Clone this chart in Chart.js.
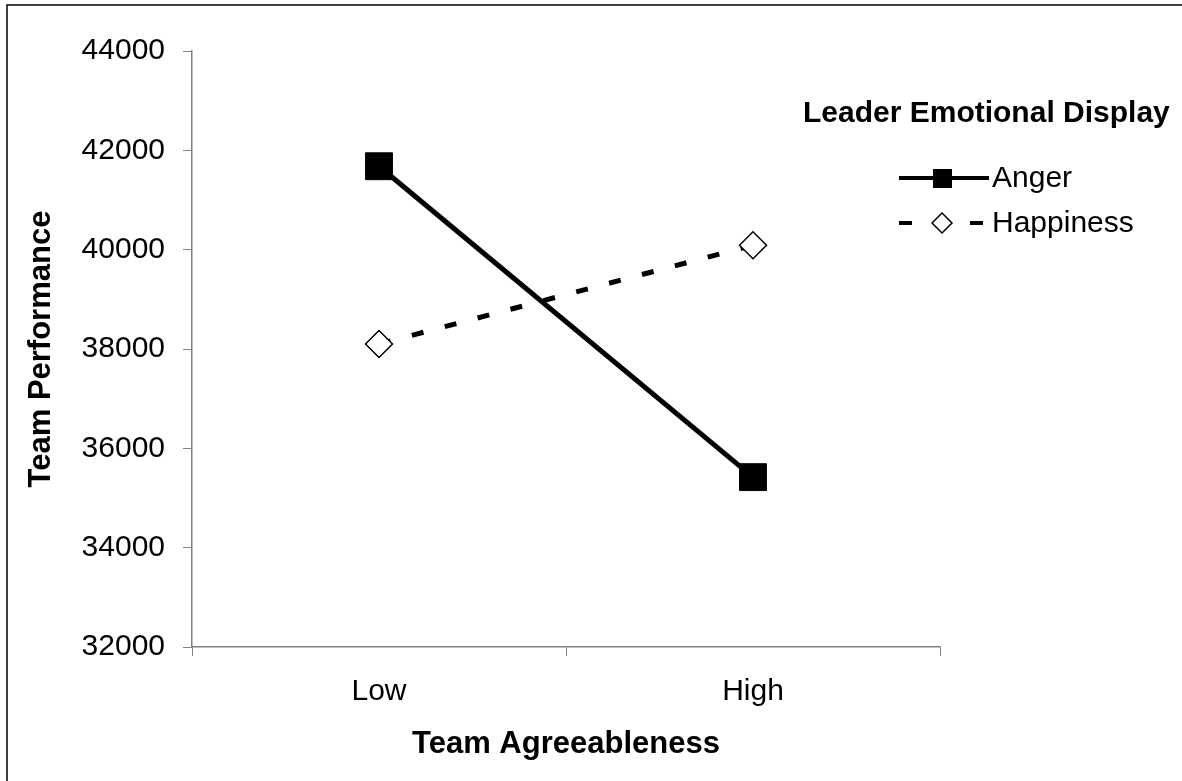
<!DOCTYPE html>
<html>
<head>
<meta charset="utf-8">
<script src="https://cdn.jsdelivr.net/npm/chart.js@4/dist/chart.umd.min.js"></script>
<style>
  html, body { margin: 0; padding: 0; background: #fff; }
  #wrap { position: relative; width: 1182px; height: 781px; }
</style>
</head>
<body>
<div id="wrap"><canvas id="chart" width="1182" height="781"></canvas></div>
<script>
const categories = ['Low', 'High'];
const angerValues = [41680, 35420];
const happinessValues = [38100, 40090];
const yTicks = [32000, 34000, 36000, 38000, 40000, 42000, 44000];
const legendTitle = 'Leader Emotional Display';

// frame round the figure (only top and left edges are visible)
const framePlugin = {
    id: 'frame',
    beforeDraw(chart) {
        const ctx = chart.ctx;
        ctx.save();
        ctx.fillStyle = '#fff';
        ctx.fillRect(0, 0, chart.width, chart.height);
        ctx.strokeStyle = '#000';
        ctx.lineWidth = 1.5;
        ctx.beginPath();
        ctx.moveTo(7, chart.height);
        ctx.lineTo(7, 5);
        ctx.lineTo(chart.width, 5);
        ctx.stroke();
        ctx.restore();
    }
};

// legend drawn by hand so it sits like the original
const legendPlugin = {
    id: 'sideLegend',
    afterDraw(chart) {
        const ctx = chart.ctx;
        ctx.save();
        ctx.fillStyle = '#000';
        ctx.font = 'bold 30px "Liberation Sans", Arial, sans-serif';
        ctx.textBaseline = 'middle';
        ctx.textAlign = 'left';
        ctx.fillText(legendTitle, 803, 114);

        const rows = [178, 223];
        chart.data.datasets.forEach((ds, i) => {
            const y = rows[i];
            ctx.strokeStyle = ds.borderColor;
            ctx.lineWidth = 4;
            ctx.setLineDash(ds.borderDash ? [12, 18] : []);
            ctx.beginPath();
            ctx.moveTo(899, y);
            ctx.lineTo(989, y);
            if (ds.borderDash) {
                ctx.setLineDash([]);
                ctx.beginPath();
                ctx.moveTo(899, y); ctx.lineTo(912, y);
                ctx.moveTo(970, y); ctx.lineTo(983, y);
            }
            ctx.stroke();
            ctx.setLineDash([]);
            if (ds.pointStyle === 'rect') {
                ctx.fillStyle = '#000';
                ctx.fillRect(933, y - 9, 19, 19);
            } else {
                ctx.fillStyle = '#fff';
                ctx.strokeStyle = '#000';
                ctx.lineWidth = 1.5;
                ctx.beginPath();
                ctx.moveTo(942, y - 10);
                ctx.lineTo(952, y);
                ctx.lineTo(942, y + 10);
                ctx.lineTo(932, y);
                ctx.closePath();
                ctx.fill();
                ctx.stroke();
            }
            ctx.fillStyle = '#000';
            ctx.font = '30px "Liberation Sans", Arial, sans-serif';
            ctx.fillText(ds.label, 992, y + 1);
        });
        ctx.restore();
    }
};

const ctx = document.getElementById('chart').getContext('2d');
new Chart(ctx, {
    type: 'line',
    data: {
        labels: categories,
        datasets: [{
            label: 'Anger',
            data: angerValues,
            borderColor: '#000',
            borderWidth: 5,
            pointStyle: 'rect',
            pointRadius: 19,
            pointBackgroundColor: '#000',
            pointBorderColor: '#000',
            pointBorderWidth: 1,
            tension: 0
        }, {
            label: 'Happiness',
            data: happinessValues,
            borderColor: '#000',
            borderWidth: 5,
            borderDash: [12, 22],
            pointStyle: 'rectRot',
            pointRadius: 13.5,
            pointBackgroundColor: '#fff',
            pointBorderColor: '#000',
            pointBorderWidth: 1.5,
            tension: 0
        }]
    },
    options: {
        responsive: false,
        animation: false,
        layout: {
            padding: { left: 0, right: 242, top: 51, bottom: 0 }
        },
        plugins: {
            legend: { display: false },
            tooltip: { enabled: false }
        },
        scales: {
            x: {
                type: 'category',
                offset: true,
                afterFit(scale) { scale.height = 134; },
                grid: {
                    offset: true,
                    drawOnChartArea: false,
                    tickLength: 9,
                    tickColor: '#808080'
                },
                border: { color: '#808080', width: 1.5 },
                ticks: {
                    color: '#000',
                    padding: 18,
                    font: { family: '"Liberation Sans", Arial, sans-serif', size: 30 }
                },
                title: {
                    display: true,
                    text: 'Team Agreeableness',
                    color: '#000',
                    padding: { top: 0, bottom: 18 },
                    font: { family: '"Liberation Sans", Arial, sans-serif', size: 31, weight: 'bold' }
                }
            },
            y: {
                min: yTicks[0],
                max: yTicks[yTicks.length - 1],
                afterFit(scale) { scale.width = 192; },
                afterBuildTicks(scale) { scale.ticks = yTicks.map(v => ({ value: v })); },
                grid: {
                    drawOnChartArea: false,
                    tickLength: 9,
                    tickColor: '#808080'
                },
                border: { color: '#808080', width: 1.5 },
                ticks: {
                    color: '#000',
                    padding: 18,
                    callback: v => String(v),
                    font: { family: '"Liberation Sans", Arial, sans-serif', size: 30 }
                },
                title: {
                    display: true,
                    text: 'Team Performance',
                    color: '#000',
                    padding: { top: 23, bottom: 0 },
                    font: { family: '"Liberation Sans", Arial, sans-serif', size: 31, weight: 'bold' }
                }
            }
        }
    },
    plugins: [framePlugin, legendPlugin]
});
</script>
</body>
</html>
